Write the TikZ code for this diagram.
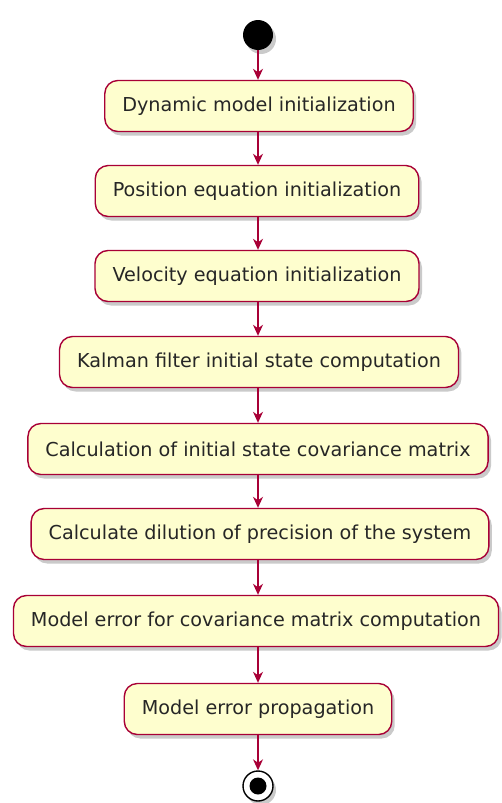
\documentclass[tikz,border=0pt]{standalone}
\usepackage{fontspec}
\setmainfont{DejaVu Sans}
\usetikzlibrary{arrows.meta,shadows}
\definecolor{umlred}{HTML}{A80036}
\definecolor{umlfill}{HTML}{FEFECE}

\begin{document}
\begin{tikzpicture}[x=1pt,y=-1pt,
  shade/.style={drop shadow={shadow xshift=3pt,shadow yshift=-4pt,opacity=0.35,fill=black!60}},
  activity/.style={draw=umlred,fill=umlfill,line width=1.4pt,rounded corners=13pt,
    minimum height=51pt,inner xsep=17.5pt,font=\fontsize{19.2}{22}\selectfont,text=black!85,shade},
  flow/.style={draw=umlred,line width=1.4pt,-{Stealth[length=11pt,width=10pt,inset=3.5pt]}}]
\useasboundingbox (0,0) rectangle (502,803);

\node[circle,fill=black,minimum size=30pt,inner sep=0pt,shade] (start) at (258,35) {};
\node[activity] (dyn) at (259,106) {Dynamic model initialization};
\node[activity] (pos) at (257,191) {Position equation initialization};
\node[activity] (vel) at (257,276) {Velocity equation initialization};
\node[activity] (kal) at (259,362) {Kalman filter initial state computation};
\node[activity] (cov) at (258,449) {Calculation of initial state covariance matrix};
\node[activity] (dop) at (260,534) {Calculate dilution of precision of the system};
\node[activity] (err) at (256,621) {Model error for covariance matrix computation};
\node[activity] (prop) at (258,709) {Model error propagation};
\node[circle,draw=black,fill=white,line width=1.4pt,minimum size=30pt,inner sep=0pt,shade] (stop) at (258,786) {};
\node[circle,fill=black,minimum size=17pt,inner sep=0pt] (stopdot) at (stop) {};

\draw[flow] (start) -- (start |- dyn.north);
\draw[flow] (start |- dyn.south) -- (start |- pos.north);
\draw[flow] (start |- pos.south) -- (start |- vel.north);
\draw[flow] (start |- vel.south) -- (start |- kal.north);
\draw[flow] (start |- kal.south) -- (start |- cov.north);
\draw[flow] (start |- cov.south) -- (start |- dop.north);
\draw[flow] (start |- dop.south) -- (start |- err.north);
\draw[flow] (start |- err.south) -- (start |- prop.north);
\draw[flow] (start |- prop.south) -- (stop);
\end{tikzpicture}
\end{document}
